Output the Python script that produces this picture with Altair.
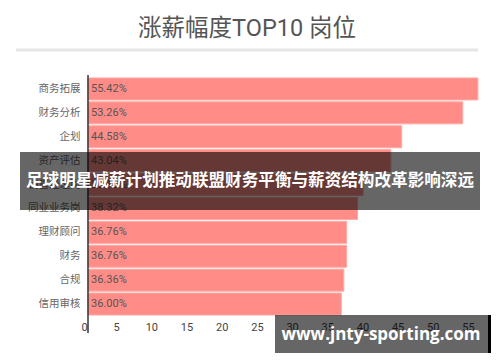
import altair as alt
import pandas as pd

categories = ["商务拓展", "财务分析", "企划", "资产评估", "销售经理岗",
              "同业业务岗", "理财顾问", "财务", "合规", "信用审核"]
values = [55.42, 53.26, 44.58, 43.04, 39.10, 38.32, 36.76, 36.76, 36.36, 36.00]
x_ticks = [0, 5, 10, 15, 20, 25, 30, 35, 40, 45, 50, 55]

title_text = "涨薪幅度TOP10 岗位"
banner_text = "足球明星减薪计划推动联盟财务平衡与薪资结构改革影响深远"
watermark_text = "www.jnty-sporting.com"

FONT = "Roboto, 'Noto Sans CJK SC', sans-serif"
CJK = "'Noto Sans CJK SC', sans-serif"

df = pd.DataFrame({
    "cat": categories,
    "val": values,
    "label": [f"{v:.2f}%" for v in values],
})
one = pd.DataFrame({"a": [0]})

W, H = 394, 239

y_enc = alt.Y(
    "cat:N", sort=categories,
    scale=alt.Scale(paddingInner=0.08, paddingOuter=0.04),
    axis=alt.Axis(domain=False, ticks=False, labelPadding=8, labelFontSize=10.5,
                  labelColor="#666", title=None, labelFont=CJK),
)
x_enc = alt.X(
    "val:Q", scale=alt.Scale(domain=[0, 56], nice=False),
    axis=alt.Axis(values=x_ticks, grid=False, domain=False, ticks=False,
                  labelOffset=-7, labelPadding=5, title=None, labelColor="#444",
                  labelFontSize=11, labelFont=FONT),
)

base = alt.Chart(df)
bars = base.mark_bar(color="#ff8c86", stroke="#ffaaa5", strokeWidth=1).encode(x=x_enc, y=y_enc)
labels = base.mark_text(align="left", baseline="middle", fontSize=11, color="#555", font=FONT).encode(
    x=alt.value(3), y=alt.Y("cat:N", sort=categories), text="label:N")

deco = alt.Chart(one)
axis_line = deco.mark_rule(color="#333", strokeWidth=1.5).encode(
    x=alt.value(0), y=alt.value(-2), y2=alt.value(256))
title = deco.mark_text(fontSize=23.5, color="#555", font=FONT, align="center", baseline="alphabetic").encode(
    x=alt.value(159), y=alt.value(-41), text=alt.value(title_text))
sep = deco.mark_rule(color="#e6e6e6", strokeWidth=3).encode(
    x=alt.value(-72), x2=alt.value(390), y=alt.value(-27))
banner = deco.mark_rect(color="black", opacity=0.6).encode(
    x=alt.value(-68), x2=alt.value(392), y=alt.value(75), y2=alt.value(133))
banner_t = deco.mark_text(fontSize=16.6, color="white", fontWeight="bold", font=CJK,
                          align="center", baseline="middle").encode(
    x=alt.value(162), y=alt.value(104), text=alt.value(banner_text))
wm = deco.mark_rect(color="black", opacity=0.6).encode(
    x=alt.value(187), x2=alt.value(400), y=alt.value(238), y2=alt.value(276))
strip = deco.mark_rect(color="black").encode(
    x=alt.value(400), x2=alt.value(403), y=alt.value(238), y2=alt.value(276))
wm_t = deco.mark_text(fontSize=17, color="white", fontWeight="bold", font="'Open Sans', sans-serif",
                      align="center", baseline="middle").encode(
    x=alt.value(293), y=alt.value(258), text=alt.value(watermark_text))

chart = alt.layer(bars, labels, axis_line, title, sep, banner, banner_t, wm, strip, wm_t).properties(
    width=W, height=H,
    autosize=alt.AutoSizeParams(type="none"),
    padding={"left": 80, "top": 69, "right": 10, "bottom": 38},
).configure_view(stroke=None)

chart.save("out.html", embed_options={"renderer": "svg", "actions": False})
